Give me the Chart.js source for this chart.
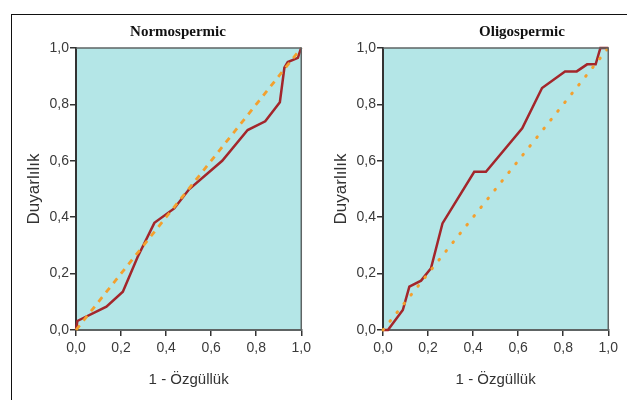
<!DOCTYPE html>
<html>
<head>
<meta charset="utf-8">
<script src="https://cdn.jsdelivr.net/npm/chart.js@4.4.1/dist/chart.umd.min.js"></script>
<style>
  html, body { margin: 0; padding: 0; background: #ffffff; }
  body { width: 627px; height: 400px; position: relative; overflow: hidden; }
  #frame { position: absolute; left: 11px; top: 14px; width: 640px; height: 400px;
           border-top: 1.5px solid #111; border-left: 1.5px solid #111; }
  .box { position: absolute; top: 15px; width: 295px; height: 385px; }
  #b1 { left: 20px; }
  #b2 { left: 327px; }
  .ptitle { position: absolute; top: 22px; transform: translateX(-50%); white-space: nowrap;
            font-family: 'Liberation Serif', 'Times New Roman', serif; font-weight: bold;
            font-size: 15px; line-height: 18px; color: #111; }
  #t1 { left: 178px; }
  #t2 { left: 522px; }
</style>
</head>
<body>
<div id="frame"></div>
<div class="box" id="b1"><canvas id="c1"></canvas></div>
<div class="box" id="b2"><canvas id="c2"></canvas></div>
<div class="ptitle" id="t1"></div>
<div class="ptitle" id="t2"></div>
<script>
// ---- data ----
const panelTitles = ['Normospermic', 'Oligospermic'];
const xAxisTitle = '1 - Özgüllük';
const yAxisTitle = 'Duyarlılık';
const tickValues = [0, 0.2, 0.4, 0.6, 0.8, 1.0];
const tickLabels = ['0,0', '0,2', '0,4', '0,6', '0,8', '1,0'];

const normoFpr = [0, 0.006, 0.135, 0.208, 0.274, 0.348, 0.436, 0.502, 0.649, 0.762, 0.840, 0.905, 0.925, 0.940, 0.985, 0.997, 1];
const normoTpr = [0, 0.032, 0.083, 0.136, 0.260, 0.380, 0.431, 0.499, 0.600, 0.709, 0.740, 0.808, 0.930, 0.950, 0.965, 0.995, 1];

const oligoFpr = [0, 0.022, 0.088, 0.117, 0.169, 0.213, 0.264, 0.405, 0.457, 0.618, 0.706, 0.808, 0.860, 0.906, 0.944, 0.965, 1];
const oligoTpr = [0, 0, 0.071, 0.154, 0.175, 0.219, 0.378, 0.561, 0.561, 0.715, 0.858, 0.917, 0.917, 0.942, 0.942, 1, 1];

const refX = [0, 1];
const refY = [0, 1];

// ---- styling ----
const SANS = "'Liberation Sans', Arial, sans-serif";
const rocColor = '#a3262b';
const refColor = '#f3a02e';
const plotBg = '#b4e6e7';

document.getElementById('t1').textContent = panelTitles[0];
document.getElementById('t2').textContent = panelTitles[1];

const areaPlugin = {
  id: 'areaPlugin',
  beforeDraw(chart) {
    const { ctx, chartArea: a } = chart;
    ctx.save();
    ctx.fillStyle = plotBg;
    ctx.fillRect(a.left, a.top, a.right - a.left, a.bottom - a.top);
    ctx.restore();
  },
  afterDatasetsDraw(chart) {
    const { ctx, chartArea: a } = chart;
    ctx.save();
    ctx.strokeStyle = '#5e6464';
    ctx.lineWidth = 1.5;
    ctx.beginPath();
    ctx.moveTo(a.left, a.top);
    ctx.lineTo(a.right, a.top);
    ctx.lineTo(a.right, a.bottom);
    ctx.stroke();
    ctx.restore();
  }
};

function pts(xs, ys) { return xs.map((x, i) => ({ x: x, y: ys[i] })); }

function makeChart(id, xs, ys, dash, cap, refWidth) {
  const fmt = v => {
    const i = tickValues.findIndex(t => Math.abs(t - v) < 1e-9);
    return i >= 0 ? tickLabels[i] : '';
  };
  return new Chart(document.getElementById(id), {
    type: 'scatter',
    data: {
      datasets: [
        { data: pts(refX, refY), showLine: true, borderColor: refColor, borderWidth: refWidth,
          borderDash: dash, borderCapStyle: cap, pointRadius: 0, order: 0, clip: 4 },
        { data: pts(xs, ys), showLine: true, borderColor: rocColor, borderWidth: 2.5,
          pointRadius: 0, order: 1, clip: 4, tension: 0 }
      ]
    },
    options: {
      responsive: true,
      maintainAspectRatio: false,
      animation: false,
      layout: { padding: { left: 0, right: 12, top: 33, bottom: 0 } },
      plugins: {
        legend: { display: false },
        tooltip: { enabled: false },
        title: { display: false }
      },
      scales: {
        x: {
          type: 'linear', min: 0, max: 1,
          afterBuildTicks: s => { s.ticks = tickValues.map(v => ({ value: v })); },
          afterFit: s => { s.height = 70; },
          ticks: { callback: fmt, color: '#3a3a3a', padding: 4, maxRotation: 0,
                   font: { family: SANS, size: 14 } },
          grid: { drawOnChartArea: false, drawTicks: true, tickLength: 6, color: '#333', lineWidth: 1.5 },
          border: { display: true, color: '#5e6464', width: 2 },
          title: { display: true, text: xAxisTitle, color: '#333',
                   font: { family: SANS, size: 15 }, padding: { top: 0, bottom: 11 } }
        },
        y: {
          type: 'linear', min: 0, max: 1,
          afterBuildTicks: s => { s.ticks = tickValues.map(v => ({ value: v })); },
          afterFit: s => { s.width = 56; },
          ticks: { callback: fmt, color: '#3a3a3a', padding: 1,
                   font: { family: SANS, size: 14 } },
          grid: { drawOnChartArea: false, drawTicks: true, tickLength: 6, color: '#333', lineWidth: 1.5 },
          border: { display: true, color: '#333', width: 2 },
          title: { display: true, text: yAxisTitle, color: '#333',
                   font: { family: SANS, size: 17 }, padding: { top: 4, bottom: 0 } }
        }
      }
    },
    plugins: [areaPlugin]
  });
}

makeChart('c1', normoFpr, normoTpr, [6, 6], 'butt', 2.8);
makeChart('c2', oligoFpr, oligoTpr, [0.8, 10.4], 'round', 3);
</script>
</body>
</html>
